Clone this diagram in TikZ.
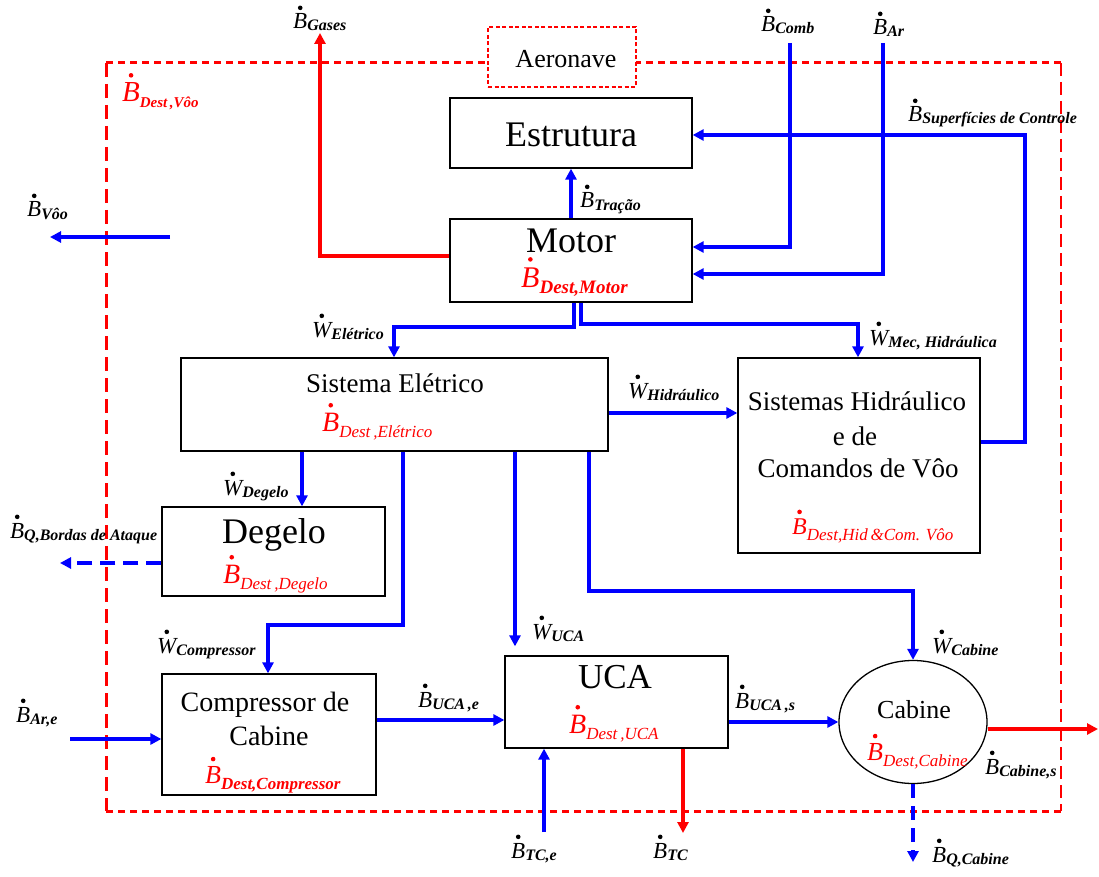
\documentclass[tikz,border=0pt]{standalone}
\usepackage{fontspec}
\setmainfont{Liberation Serif}
\usetikzlibrary{arrows.meta,shapes.geometric}

% dot centred above a symbol (time derivative)
\newcommand\dotover[1]{\leavevmode\setbox0=\hbox{#1}%
  \hbox to\wd0{\hss\raisebox{\dimexpr0.92em-2.3pt\relax}[0pt][0pt]{\tikz\fill (0,0) circle[radius=2.3pt];}\hss}\kern-\wd0\box0}
% #1 symbol, #2 size, #3 subscript size, #4 drop, #5 subscript font, #6 subscript
\newcommand\flw[6]{{\fontsize{#2}{#2}\selectfont\dotover{\itshape #1}}%
  \raisebox{-#4}{\fontsize{#3}{#3}\selectfont#5#6}}
\newcommand\Bk[1]{\flw{B}{23}{16}{2pt}{\bfseries\itshape}{#1}}
\newcommand\Wk[1]{\flw{W}{23}{16}{2pt}{\bfseries\itshape}{#1}}
\newcommand\Bd[3]{\flw{B}{#1}{#2}{6pt}{\itshape}{#3}}
\newcommand\BdB[3]{\flw{B}{#1}{#2}{6pt}{\bfseries\itshape}{#3}}

\tikzset{
  box/.style={draw, line width=1.3pt, inner sep=0pt, rectangle},
  flow/.style={blue, line width=3.5pt},
  hot/.style={red, line width=3.5pt},
  tip/.style={-{Triangle[length=11pt,width=11pt]}},
  lbl/.style={inner sep=0pt, anchor=base west},
  title/.style={inner sep=0pt, anchor=base},
  bnd/.style={red, line width=3pt},
}

\begin{document}
\begin{tikzpicture}[x=1pt,y=-1pt]
\useasboundingbox (0,0) rectangle (1099,877);

% control volume of the aircraft
\coordinate (bTL) at (106,63);
\coordinate (bTR) at (1061,63);
\coordinate (bBL) at (106,811);
\coordinate (bBR) at (1061,811);
\draw[bnd, dash pattern=on 7pt off 5pt] (bTL) -- (bTR);
\draw[bnd, dash pattern=on 7pt off 5pt] (bBL) -- (bBR);
\draw[bnd, dash pattern=on 14pt off 7pt] (bTL) -- (bBL);
\draw[bnd, line width=2.5pt, dash pattern=on 13pt off 6pt] (bTR) -- (bBR);

\node[box, draw=red, line width=2pt, dash pattern=on 4pt off 2.5pt, fill=white,
      minimum width=148pt, minimum height=60pt] (aero) at (562,57) {};
\node[title, font=\fontsize{26}{26}\selectfont] (tAero) at (566,68) {Aeronave};

% components
\node[box, minimum width=242pt, minimum height=70pt]  (estr)   at (571,133) {};
\node[box, minimum width=242pt, minimum height=83pt]  (motor)  at (571,260.5) {};
\node[box, minimum width=427pt, minimum height=93pt]  (elec)   at (394.5,404.5) {};
\node[box, minimum width=242pt, minimum height=195pt] (hid)    at (859,455.5) {};
\node[box, minimum width=223pt, minimum height=89pt]  (degelo) at (273.5,551.5) {};
\node[box, minimum width=214pt, minimum height=121pt] (comp)   at (269,734.5) {};
\node[box, minimum width=223pt, minimum height=92pt]  (uca)    at (616.5,702) {};
\node[draw, ellipse, line width=1.3pt, inner sep=0pt,
      minimum width=148pt, minimum height=123pt] (cab) at (913,722) {};

\node[title, font=\fontsize{36}{36}\selectfont] (tEstr) at (571,147) {Estrutura};
\node[title, font=\fontsize{36}{36}\selectfont] (tMot) at (571,252) {Motor};
\node[title, font=\fontsize{27}{27}\selectfont] (tEl) at (395,392) {Sistema Elétrico};
\node[title, font=\fontsize{27}{27}\selectfont] (tHid1) at (857,410) {Sistemas Hidráulico};
\node[title, font=\fontsize{27}{27}\selectfont] (tHid2) at (855,445) {e de};
\node[title, font=\fontsize{27}{27}\selectfont] (tHid3) at (858,477) {Comandos de Vôo};
\node[title, font=\fontsize{36}{36}\selectfont] (tDeg) at (274,543) {Degelo};
\node[title, font=\fontsize{28}{28}\selectfont] (tComp1) at (265,711) {Compressor de};
\node[title, font=\fontsize{28}{28}\selectfont] (tComp2) at (269,745) {Cabine};
\node[title, font=\fontsize{35}{35}\selectfont] (tUca) at (615,688) {UCA};
\node[title, font=\fontsize{26}{26}\selectfont] (tCab) at (914,718) {Cabine};

% exergy destruction labels
\node[lbl, red] (dVoo)  at (122,102) {\BdB{29}{15}{Dest\,,Vôo}};
\node[lbl, red] (dMot)  at (521,287) {\BdB{30}{19}{Dest,Motor}};
\node[lbl, red] (dEl)   at (322,431) {\Bd{28}{17}{Dest\,,Elétrico}};
\node[lbl, red] (dDeg)  at (223,583) {\Bd{28}{17}{Dest\,,Degelo}};
\node[lbl, red] (dComp) at (205,783) {\BdB{26}{17}{Dest,Compressor}};
\node[lbl, red] (dUca)  at (569,733) {\Bd{28}{17}{Dest\,,UCA}};
\node[lbl, red] (dCab)  at (867,760) {\Bd{26}{17}{Dest,Cabine}};
\node[lbl, red] (dHid)  at (792,534) {\Bd{24}{17}{Dest,Hid\,\&Com. Vôo}};

% flow labels
\node[lbl] (lGases) at (293,29)  {\Bk{Gases}};
\node[lbl] (lComb)  at (761,32)  {\Bk{Comb}};
\node[lbl] (lAr)    at (873,35)  {\Bk{Ar}};
\node[lbl] (lSup)   at (908,122) {\Bk{Superfícies de Controle}};
\node[lbl] (lTr)    at (580,208) {\Bk{Tração}};
\node[lbl] (lVoo)   at (27,217)  {\Bk{Vôo}};
\node[lbl] (lWel)   at (312,337) {\Wk{Elétrico}};
\node[lbl] (lWmec)  at (869,345) {\Wk{Mec, Hidráulica}};
\node[lbl] (lWhid)  at (628,398) {\Wk{Hidráulico}};
\node[lbl] (lWdeg)  at (223,495) {\Wk{Degelo}};
\node[lbl] (lQb)    at (10,538)  {\Bk{Q,Bordas de Ataque}};
\node[lbl] (lWcomp) at (157,653) {\Wk{Compressor}};
\node[lbl] (lAre)   at (16,722)  {\Bk{Ar,e}};
\node[lbl] (lUe)    at (418,707) {\Bk{UCA\,,e}};
\node[lbl] (lWuca)  at (532,639) {\Wk{UCA}};
\node[lbl] (lUs)    at (735,708) {\Bk{UCA\,,s}};
\node[lbl] (lWcab)  at (932,653) {\Wk{Cabine}};
\node[lbl] (lCs)    at (985,774) {\Bk{Cabine,s}};
\node[lbl] (lTCe)   at (511,858) {\Bk{TC,e}};
\node[lbl] (lTC)    at (653,858) {\Bk{TC}};
\node[lbl] (lQc)    at (932,862) {\Bk{Q,Cabine}};

% free ends of the flows
\coordinate (gasTop)  at (320,33);
\coordinate (combTop) at (790,43);
\coordinate (arTop)   at (883,43);
\coordinate (supC)    at (1025,135);
\coordinate (vooA)    at (170,237);
\coordinate (vooB)    at (50,237);
\coordinate (qbEnd)   at (60,563);
\coordinate (areA)    at (70,739);
\coordinate (tceA)    at (544,832);
\coordinate (tcEnd)   at (683,833);
\coordinate (csEnd)   at (1098,729);
\coordinate (qcEnd)   at (913,862);

% exergy flows
\draw[hot, tip] (motor.west |- 0,256) -| (gasTop);
\draw[flow, tip] (motor.north) -- (estr.south);
\draw[flow, tip] (combTop) |- (motor.east |- 0,247);
\draw[flow, tip] (arTop) |- (motor.east |- 0,274);
\draw[flow, tip] (hid.east |- 0,442) -| (supC) -- (estr.east |- supC);
\draw[flow, tip] (vooA) -- (vooB);
\draw[flow, tip] (motor.south -| 574,0) |- (394,327) -- (elec.north -| 394,0);
\draw[flow, tip] (motor.south -| 581,0) |- (858,324) -- (hid.north -| 858,0);
\draw[flow, tip] (elec.east |- 0,413) -- (hid.west |- 0,413);
\draw[flow, tip] (elec.south -| 302,0) -- (degelo.north -| 302,0);
\draw[flow, tip, dash pattern=on 15pt off 8pt] (degelo.west |- 0,563) -- (qbEnd);
\draw[flow, tip] (elec.south -| 403,0) |- (268,625) -- (comp.north -| 268,0);
\draw[flow, tip, shorten >=9pt] (elec.south -| 515,0) -- (uca.north -| 515,0);
\draw[flow, tip] (elec.south -| 589,0) |- (913,591) -- (cab.north);
\draw[flow, tip] (areA) -- (comp.west |- areA);
\draw[flow, tip] (comp.east |- 0,720) -- (uca.west |- 0,720);
\draw[flow, tip] (tceA) -- (uca.south -| tceA);
\draw[flow, tip] (uca.east |- cab.west) -- (cab.west);
\draw[flow, tip, dash pattern=on 14pt off 8pt] (cab.south) -- (qcEnd);
\draw[hot, tip] (uca.south -| tcEnd) -- (tcEnd);
\draw[hot, tip] (cab.east |- csEnd) -- (csEnd);
\end{tikzpicture}
\end{document}
